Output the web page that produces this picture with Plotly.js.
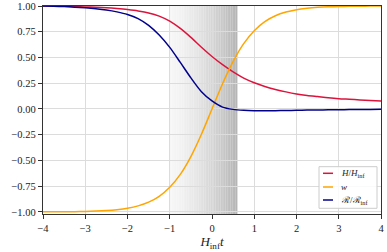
<!DOCTYPE html>
<html>
<head>
<meta charset="utf-8">
<script src="https://cdn.plot.ly/plotly-3.0.1.min.js"></script>
<style>html,body{margin:0;padding:0;background:#fff;}#chart{width:387px;height:252px;}</style>
</head>
<body>
<div id="chart"></div>
<script>
// Time axis H_inf t
var t = [-4, -3.75, -3.5, -3.25, -3, -2.75, -2.5, -2.25, -2, -1.75, -1.5, -1.25, -1, -0.75, -0.5, -0.25, 0, 0.25, 0.5, 0.75, 1, 1.25, 1.5, 1.75, 2, 2.25, 2.5, 2.75, 3, 3.25, 3.5, 3.75, 4];
// H / H_inf
var hRatio = [1.0, 0.999, 0.997, 0.994, 0.991, 0.988, 0.983, 0.975, 0.965, 0.952, 0.933, 0.902, 0.853, 0.782, 0.695, 0.600, 0.510, 0.430, 0.360, 0.300, 0.255, 0.219, 0.190, 0.166, 0.146, 0.131, 0.120, 0.109, 0.100, 0.094, 0.088, 0.083, 0.078];
// w
var w = [-0.999, -0.999, -0.998, -0.997, -0.995, -0.992, -0.987, -0.978, -0.964, -0.941, -0.905, -0.848, -0.760, -0.635, -0.462, -0.245, 0.0, 0.245, 0.462, 0.635, 0.760, 0.848, 0.905, 0.941, 0.964, 0.978, 0.987, 0.992, 0.995, 0.997, 0.998, 0.999, 0.999];
// R / R_inf
var rRatio = [0.999, 0.997, 0.994, 0.989, 0.982, 0.973, 0.961, 0.943, 0.918, 0.878, 0.812, 0.718, 0.598, 0.452, 0.302, 0.168, 0.078, 0.018, -0.004, -0.013, -0.017, -0.018, -0.017, -0.015, -0.013, -0.011, -0.010, -0.008, -0.007, -0.006, -0.005, -0.004, -0.003];
// legend labels
var legendNames = ['<i>H</i>/<i>H</i><sub>inf</sub>', '<i>w</i>', 'ℛ/ℛ<sub>inf</sub>'];
var colors = ['#DC143C', '#FFA500', '#00008B'];
var shadeStart = -1.0, shadeEnd = 0.6;

var series = [hRatio, w, rRatio];
var traces = series.map(function (s, k) {
  return {x: t, y: s, mode: 'lines', line: {color: colors[k], width: 1.5, shape: 'spline', smoothing: 0.8}, name: legendNames[k], showlegend: false};
});

var shapes = [];
var N = 40;
for (var i = 0; i < N; i++) {
  var f0 = i / N, f1 = (i + 1) / N;
  var fm = (f0 + f1) / 2;
  var g = Math.round(246 - 66 * Math.pow(fm, 1.5));
  shapes.push({
    type: 'rect', xref: 'x', yref: 'paper', layer: 'below',
    x0: shadeStart + (shadeEnd - shadeStart) * f0,
    x1: shadeStart + (shadeEnd - shadeStart) * f1 + 0.002,
    y0: 0, y1: 1,
    fillcolor: 'rgb(' + g + ',' + g + ',' + g + ')',
    line: {width: 0}
  });
}

// custom legend (positions in paper coordinates)
var legBox = {x0: 0.8166, x1: 0.9882, y0: 0.0274, y1: 0.2274};
var rowY = [0.1957, 0.1298, 0.0673];
shapes.push({type: 'rect', xref: 'paper', yref: 'paper', layer: 'above',
  x0: legBox.x0, x1: legBox.x1, y0: legBox.y0, y1: legBox.y1,
  fillcolor: 'rgba(255,255,255,0.85)', line: {color: '#cccccc', width: 1}});
var annotations = [];
for (var k = 0; k < 3; k++) {
  shapes.push({type: 'line', xref: 'paper', yref: 'paper', layer: 'above',
    x0: 0.8284, x1: 0.8580, y0: rowY[k], y1: rowY[k],
    line: {color: colors[k], width: 1.5}});
  annotations.push({xref: 'paper', yref: 'paper', x: 0.8757, y: rowY[k],
    xanchor: 'left', yanchor: 'middle', showarrow: false,
    text: legendNames[k], font: {family: 'Liberation Serif, DejaVu Serif, serif', size: 9, color: '#222'}});
}

var fontFam = 'Liberation Serif, DejaVu Serif, serif';
var layout = {
  width: 387, height: 252,
  margin: {l: 43, r: 6, t: 6, b: 38},
  paper_bgcolor: '#fff', plot_bgcolor: '#fff',
  showlegend: false,
  font: {family: fontFam, size: 10.5, color: '#222'},
  xaxis: {
    range: [-4, 4], dtick: 1, tick0: -4,
    showgrid: true, gridcolor: '#dcdcdc', gridwidth: 1,
    zeroline: false, showline: true, mirror: true, linecolor: '#333', linewidth: 1.2,
    ticks: 'outside', ticklen: 4, tickcolor: '#333',
    title: {text: '<i>H</i><sub>inf</sub><i>t</i>', font: {family: fontFam, size: 13, color: '#222'}, standoff: 4}
  },
  yaxis: {
    range: [-1.02, 1.0], dtick: 0.25, tick0: -1, tickformat: '.2f',
    showgrid: true, gridcolor: '#dcdcdc', gridwidth: 1,
    zeroline: false, showline: true, mirror: true, linecolor: '#333', linewidth: 1.2,
    ticks: 'outside', ticklen: 4, tickcolor: '#333'
  },
  shapes: shapes,
  annotations: annotations
};

Plotly.newPlot('chart', traces, layout, {staticPlot: true, displayModeBar: false});
</script>
</body>
</html>
